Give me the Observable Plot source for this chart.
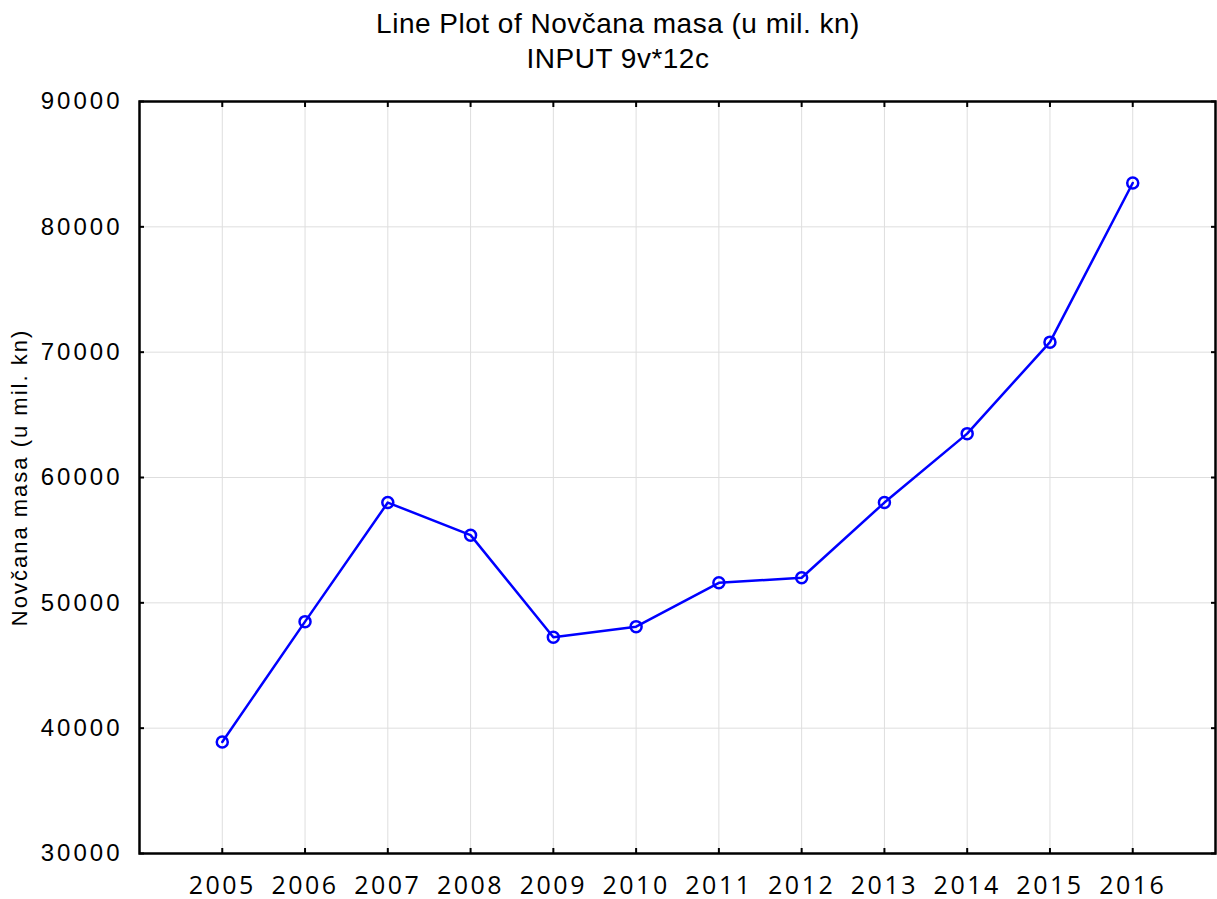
<!DOCTYPE html>
<html>
<head>
<meta charset="utf-8">
<script src="https://cdn.jsdelivr.net/npm/d3@7"></script>
<script src="https://cdn.jsdelivr.net/npm/@observablehq/plot@0.6"></script>
<style>
  html, body { margin: 0; padding: 0; background: white; }
  #head { position: relative; width: 1217px; height: 80px; font-family: "Liberation Sans", Arial, sans-serif; color: black; }
  #head div { position: absolute; left: 0; width: 1236px; text-align: center; line-height: 1; white-space: nowrap; letter-spacing: 0.5px; }
  #title { top: 10px; font-size: 28px; }
  #subtitle { top: 45px; font-size: 28px; }
  #chart svg [aria-label="x-axis tick label"] text { letter-spacing: 2.5px; }
  #chart svg [aria-label="y-axis tick label"] text { letter-spacing: 3px; }
  #chart svg .ylab text { letter-spacing: 2px; }
</style>
</head>
<body>
<div id="head">
  <div id="title">Line Plot of Novčana masa (u mil. kn)</div>
  <div id="subtitle">INPUT 9v*12c</div>
</div>
<div id="chart"></div>
<script>
const years = [2005, 2006, 2007, 2008, 2009, 2010, 2011, 2012, 2013, 2014, 2015, 2016];
const values = [38900, 48500, 58000, 55400, 47250, 48100, 51600, 52000, 58000, 63500, 70800, 83500];
const yTicks = [30000, 40000, 50000, 60000, 70000, 80000, 90000];
const yLabel = "Novčana masa (u mil. kn)";

const data = years.map((y, i) => ({year: y, value: values[i]}));

const blue = "#0000ff";
const grid = "#dedede";

const chart = Plot.plot({
  width: 1217,
  height: 819,
  marginTop: 21,
  marginBottom: 46,
  marginLeft: 139,
  marginRight: 2,
  style: {background: "white", color: "black", overflow: "visible"},
  x: {domain: [2004, 2017]},
  y: {domain: [30000, 90000]},
  marks: [
    Plot.gridX(years, {stroke: grid, strokeOpacity: 1, strokeWidth: 1}),
    Plot.gridY(yTicks, {stroke: grid, strokeOpacity: 1, strokeWidth: 1}),
    // tick labels
    Plot.axisX(years, {anchor: "bottom", tickSize: 0, tickPadding: 23, tickFormat: d => String(d),
      fontSize: 25, fontFamily: "Open Sans", label: null}),
    Plot.axisY(yTicks, {anchor: "left", tickSize: 0, tickPadding: 17, tickFormat: d => String(d),
      fontSize: 24, fontFamily: "Liberation Sans", label: null}),
    // inward tick marks on all four sides
    Plot.axisX(years, {anchor: "bottom", tickSize: 5, dy: -5, strokeWidth: 2, tickFormat: () => "", label: null}),
    Plot.axisX(years, {anchor: "top", tickSize: 5, dy: 5, strokeWidth: 2, tickFormat: () => "", label: null}),
    Plot.axisY(yTicks, {anchor: "left", tickSize: 5, dx: 5, strokeWidth: 2, tickFormat: () => "", label: null}),
    Plot.axisY(yTicks, {anchor: "right", tickSize: 5, dx: -5, strokeWidth: 2, tickFormat: () => "", label: null}),
    Plot.frame({stroke: "black", strokeWidth: 2.5}),
    Plot.text([yLabel], {text: d => d, frameAnchor: "left", rotate: -90, dx: -120,
      fontSize: 22, fontFamily: "Liberation Sans", lineAnchor: "middle", textAnchor: "middle",
      className: "ylab"}),
    Plot.line(data, {x: "year", y: "value", stroke: blue, strokeWidth: 2.5}),
    Plot.dot(data, {x: "year", y: "value", r: 5.5, stroke: blue, strokeWidth: 2.5, fill: "none"})
  ]
});
document.getElementById("chart").appendChild(chart);
</script>
</body>
</html>
